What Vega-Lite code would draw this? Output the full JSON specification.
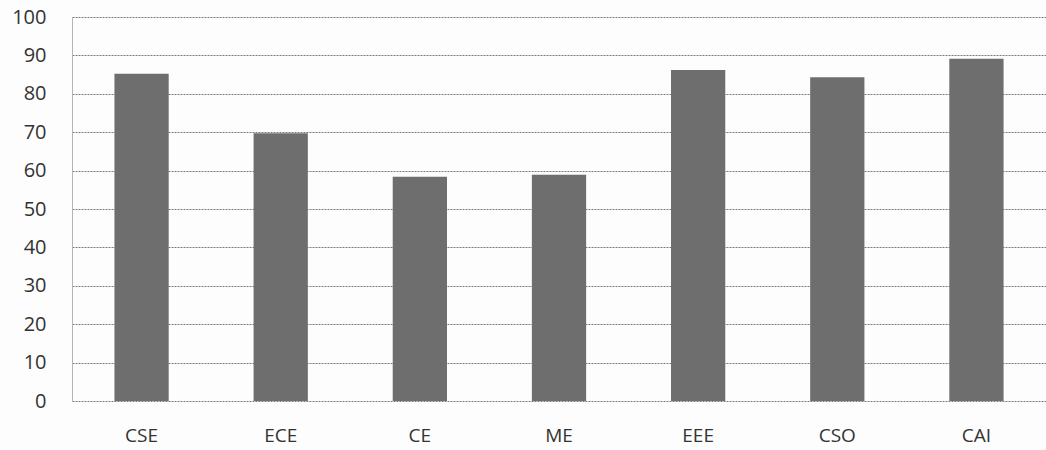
{
  "$schema": "https://vega.github.io/schema/vega-lite/v6.json",
  "autosize": {"type": "none"},
  "padding": {"left": 72, "top": 17, "right": 0, "bottom": 49},
  "width": 974,
  "height": 384,
  "background": "#fdfdfd",
  "data": {"values": [
    {"dept": "CSE", "value": 85.2},
    {"dept": "ECE", "value": 69.7},
    {"dept": "CE", "value": 58.4},
    {"dept": "ME", "value": 58.9},
    {"dept": "EEE", "value": 86.2},
    {"dept": "CSO", "value": 84.3},
    {"dept": "CAI", "value": 89.1}
  ]},
  "config": {
    "view": {"stroke": null},
    "font": "Open Sans"
  },
  "mark": {"type": "bar", "color": "#6e6e6e"},
  "encoding": {
    "x": {
      "field": "dept", "type": "nominal", "sort": null,
      "scale": {"paddingInner": 0.61, "paddingOuter": 0.305},
      "axis": {
        "title": null, "labelAngle": 0, "ticks": false, "domain": false,
        "labelFontSize": 19, "labelColor": "#333333", "labelPadding": 25,
        "labelFont": "Open Sans"
      }
    },
    "y": {
      "field": "value", "type": "quantitative",
      "scale": {"domain": [0, 100], "nice": false},
      "axis": {
        "title": null, "values": [0,10,20,30,40,50,60,70,80,90,100],
        "ticks": false, "domain": true, "domainColor": "#b5b5b5", "domainWidth": 1,
        "grid": true, "gridColor": "#7a7a7a", "gridDash": [2, 1], "gridWidth": 1,
        "labelFontSize": 20, "labelColor": "#333333", "labelPadding": 26,
        "labelFont": "Open Sans"
      }
    }
  }
}
